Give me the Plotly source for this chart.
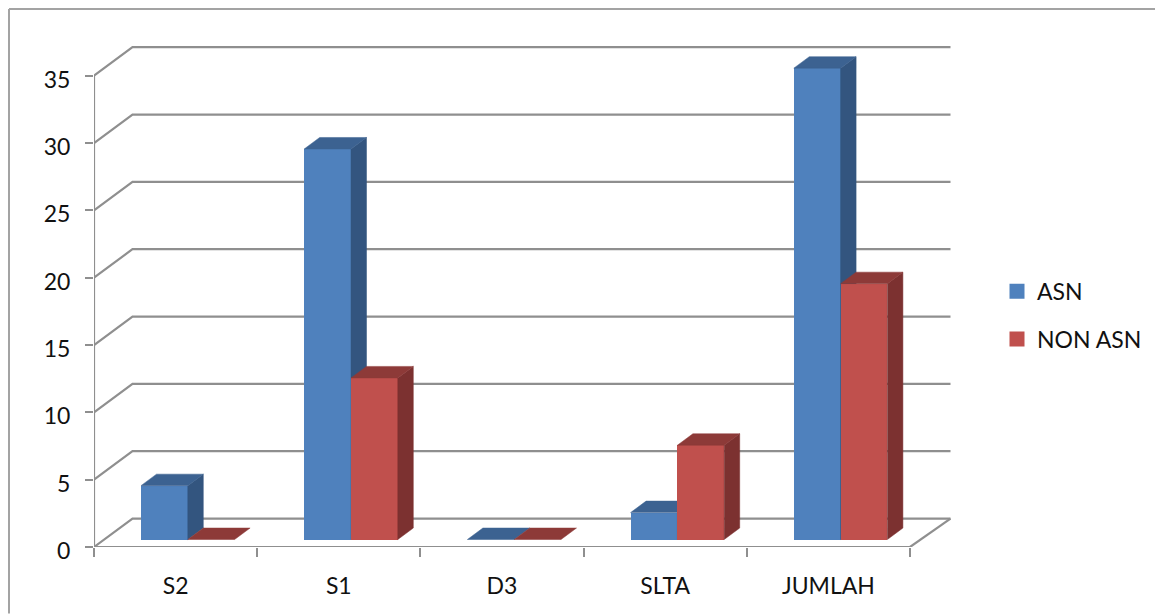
import plotly.graph_objects as go

# Pegawai per jenjang pendidikan
categories = ["S2", "S1", "D3", "SLTA", "JUMLAH"]
asn_values = [4, 29, 0, 2, 35]
non_asn_values = [0, 12, 0, 7, 19]
value_ticks = [0, 5, 10, 15, 20, 25, 30, 35]

# Pixel layout of the plot area and the scale of each axis
WIDTH, HEIGHT = 1155, 614
LEFT, BOTTOM = 94, 547.5
CAT_PX, UNIT_PX = 163.2, 13.48
RIGHT, TOP = 956, 40
X_MAX = (RIGHT - LEFT) / CAT_PX
Y_MAX = (BOTTOM - TOP) / UNIT_PX

# Oblique projection: how far the back wall and the bars sit behind the front plane
WALL_DX, WALL_DY = 38.5 / CAT_PX, 28.5 / UNIT_PX
WALL_END_DX = 40.5 / CAT_PX
BAR_DX, BAR_DY = 15.5 / CAT_PX, 11.5 / UNIT_PX
BAR_SHIFT = 12.2 / CAT_PX
BAR_BASE = 7.5 / UNIT_PX
BAR_WIDTH = 46.8 / CAT_PX

GRID = "#8f8f8f"
FONT = "Lato"
TEXT_SIZE = 23

fig = go.Figure()

# Back wall and side wall gridlines
grid_x, grid_y = [], []
for v in value_ticks:
    grid_x += [0, WALL_DX, len(categories) + WALL_END_DX, None]
    grid_y += [v, v + WALL_DY, v + WALL_DY, None]
grid_x += [len(categories), len(categories) + WALL_END_DX, None, 0, len(categories), None, 0, 0]
grid_y += [0, WALL_DY, None, 0, 0, None, 0, value_ticks[-1]]
fig.add_trace(go.Scatter(x=grid_x, y=grid_y, mode="lines", cliponaxis=False,
                         line=dict(color=GRID, width=2.2), hoverinfo="skip",
                         showlegend=False, zorder=0))


def face(xs, ys, color, z):
    fig.add_trace(go.Scatter(x=xs, y=ys, mode="lines", fill="toself", fillcolor=color,
                             line=dict(color=color, width=0.5), hoverinfo="skip",
                             showlegend=False, zorder=z))


# Each series: front faces as bars, then the side and top faces behind the next series
series = [
    ("ASN", asn_values, "#4f81bd", "#33557f", "#3c6291", -BAR_WIDTH, 1),
    ("NON ASN", non_asn_values, "#c0504d", "#7c3130", "#8d3a38", 0, 3),
]
for name, values, front, side, top, offset, z in series:
    centers = [i + 0.5 + BAR_SHIFT for i in range(len(categories))]
    fig.add_trace(go.Bar(x=centers, y=values, base=BAR_BASE, width=BAR_WIDTH, offset=offset,
                         marker=dict(color=front, line=dict(width=0)),
                         name=name, showlegend=False, zorder=z))
    for c, v in zip(centers, values):
        x0 = c + offset
        x1 = x0 + BAR_WIDTH
        y0 = BAR_BASE
        y1 = BAR_BASE + v
        if v > 0:
            face([x1, x1 + BAR_DX, x1 + BAR_DX, x1, x1],
                 [y0, y0 + BAR_DY, y1 + BAR_DY, y1, y0], side, z + 1)
        face([x0, x0 + BAR_DX, x1 + BAR_DX, x1, x0],
             [y1, y1 + BAR_DY, y1 + BAR_DY, y1, y1], top, z + 1)
    # Square legend key for the series
    fig.add_trace(go.Scatter(x=[None], y=[None], mode="markers", name=name, legendgroup=name,
                             marker=dict(symbol="square", size=15, color=front),
                             showlegend=True))

plot_w, plot_h = RIGHT - LEFT, BOTTOM - TOP
border = dict(type="line", xref="paper", yref="paper",
              line=dict(color="#a3a3a3", width=2))
px = lambda x: (x - LEFT) / plot_w
py = lambda y: (BOTTOM - y) / plot_h

fig.update_layout(
    width=WIDTH, height=HEIGHT, autosize=False,
    margin=dict(l=LEFT, r=WIDTH - RIGHT, t=TOP, b=HEIGHT - BOTTOM, pad=0, autoexpand=False),
    paper_bgcolor="white", plot_bgcolor="white",
    barmode="overlay", bargap=0,
    font=dict(family=FONT, size=TEXT_SIZE, color="#111111"),
    legend=dict(x=px(997), y=py(270), xanchor="left", yanchor="top",
                bgcolor="rgba(0,0,0,0)", tracegroupgap=15, itemwidth=30,
                traceorder="grouped",
                font=dict(family=FONT, size=TEXT_SIZE, color="#111111")),
    shapes=[
        dict(border, x0=px(9), x1=px(WIDTH), y0=py(9), y1=py(9)),
        dict(border, x0=px(9), x1=px(9), y0=py(9), y1=py(HEIGHT)),
    ],
    xaxis=dict(
        range=[0, X_MAX], showgrid=False, zeroline=False, showline=False,
        tickmode="array", tickvals=[i + 0.5 for i in range(len(categories))],
        ticktext=categories, ticks="", ticklabelstandoff=23,
        minor=dict(tickmode="array", tickvals=list(range(len(categories) + 1)),
                   ticks="outside", ticklen=9, tickwidth=2, tickcolor=GRID, showgrid=False),
    ),
    yaxis=dict(
        range=[0, Y_MAX], showgrid=False, zeroline=False, showline=False,
        tickmode="array", tickvals=value_ticks, ticks="outside", ticklen=8,
        tickwidth=2, tickcolor=GRID, ticklabelstandoff=10, ticklabelshift=4,
    ),
)

fig.write_html("out.html", config=dict(displayModeBar=False))
